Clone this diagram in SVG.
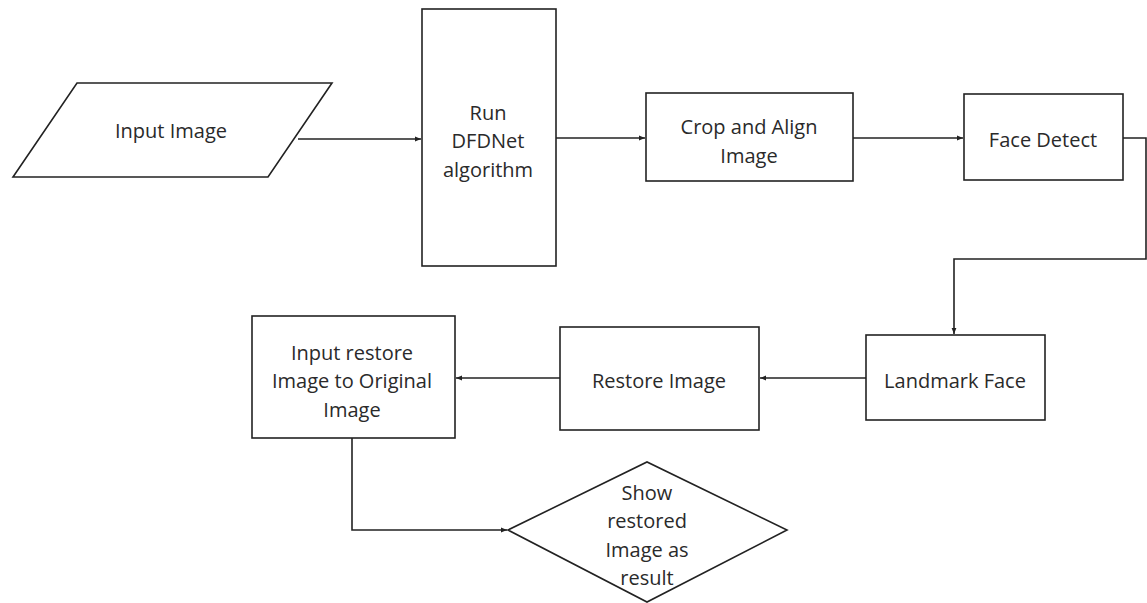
<svg xmlns="http://www.w3.org/2000/svg" width="1147" height="603" viewBox="0 0 1147 603">
<style>
.n{fill:#fff;stroke:#222;stroke-width:1.6}
.c{fill:none;stroke:#222;stroke-width:1.6}
text{font-family:"Open Sans","Liberation Sans",sans-serif;font-size:20px;fill:#2a2a2a;text-anchor:middle;dominant-baseline:central}
</style>
<defs>
<marker id="ah" viewBox="0 0 10 10" refX="10" refY="5" markerWidth="6" markerHeight="6" orient="auto" markerUnits="userSpaceOnUse">
<path d="M0,1 L10,5 L0,9 z" fill="#222"/>
</marker>
</defs>
<rect width="1147" height="603" fill="#fff"/>
<g id="connectors">
<path class="c" d="M298,139 H421" marker-end="url(#ah)"/>
<path class="c" d="M556,138 H645" marker-end="url(#ah)"/>
<path class="c" d="M853,138 H963" marker-end="url(#ah)"/>
<path class="c" d="M1123,138 H1146 V259 H954 V334" marker-end="url(#ah)"/>
<path class="c" d="M866,378 H760" marker-end="url(#ah)"/>
<path class="c" d="M560,378 H456" marker-end="url(#ah)"/>
<path class="c" d="M352,438 V530 H507" marker-end="url(#ah)"/>
</g>
<g id="input-image">
<polygon class="n" points="77,83 332,83 268,177 13,177"/>
<text x="171" y="130">Input Image</text>
</g>
<g id="run-dfdnet">
<rect class="n" x="422" y="9" width="134" height="257"/>
<text x="488" y="112">Run</text>
<text x="488" y="140">DFDNet</text>
<text x="488" y="169">algorithm</text>
</g>
<g id="crop-align">
<rect class="n" x="646" y="93" width="207" height="88"/>
<text x="749" y="126">Crop and Align</text>
<text x="749" y="155">Image</text>
</g>
<g id="face-detect">
<rect class="n" x="964" y="94" width="159" height="86"/>
<text x="1043" y="139">Face Detect</text>
</g>
<g id="landmark-face">
<rect class="n" x="866" y="335" width="179" height="85"/>
<text x="955" y="380">Landmark Face</text>
</g>
<g id="restore-image">
<rect class="n" x="560" y="327" width="199" height="103"/>
<text x="659" y="380">Restore Image</text>
</g>
<g id="input-restore">
<rect class="n" x="252" y="316" width="203" height="122"/>
<text x="352" y="352">Input restore</text>
<text x="352" y="380">Image to Original</text>
<text x="352" y="409">Image</text>
</g>
<g id="show-result">
<polygon class="n" points="508,530 647,462 787,530 647,602"/>
<text x="647" y="492">Show</text>
<text x="647" y="520">restored</text>
<text x="647" y="549">Image as</text>
<text x="647" y="577">result</text>
</g>
</svg>
